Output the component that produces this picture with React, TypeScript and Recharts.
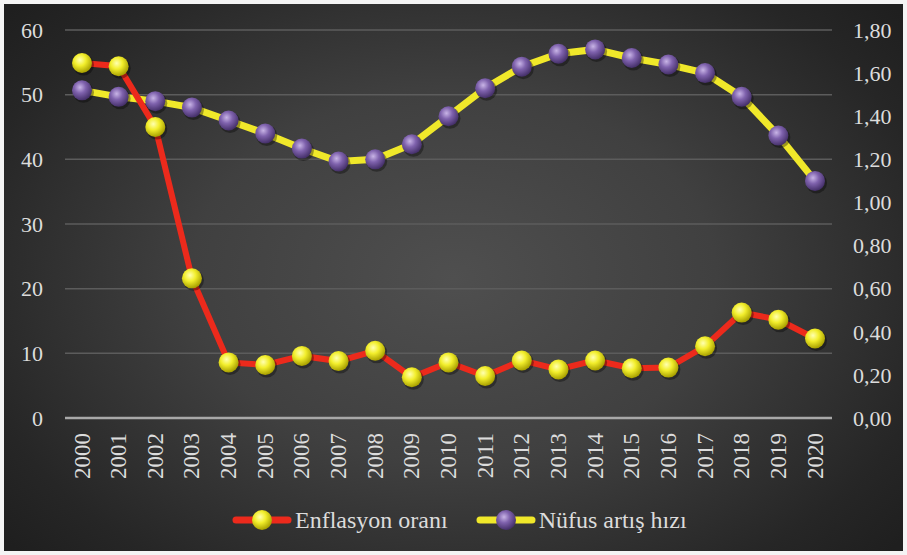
import React from 'react';
import { LineChart, Line, XAxis, YAxis, CartesianGrid, ReferenceLine } from 'recharts';

const years = ['2000', '2001', '2002', '2003', '2004', '2005', '2006', '2007', '2008', '2009', '2010',
  '2011', '2012', '2013', '2014', '2015', '2016', '2017', '2018', '2019', '2020'];
const enflasyon = [54.9, 54.4, 45.0, 21.6, 8.6, 8.2, 9.6, 8.8, 10.4, 6.3, 8.6,
  6.5, 8.9, 7.5, 8.9, 7.7, 7.8, 11.1, 16.3, 15.2, 12.3];
const nufus = [1.52, 1.49, 1.47, 1.44, 1.38, 1.32, 1.25, 1.19, 1.20, 1.27, 1.40,
  1.53, 1.63, 1.69, 1.71, 1.67, 1.64, 1.60, 1.49, 1.31, 1.10];
const leftTicks = [0, 10, 20, 30, 40, 50, 60];
const rightTicks = [0, 0.2, 0.4, 0.6, 0.8, 1.0, 1.2, 1.4, 1.6, 1.8];

const data = years.map((y, i) => ({ year: y, enf: enflasyon[i], nuf: nufus[i] }));

const FONT = "'Times New Roman', Tinos, 'Liberation Serif', 'DejaVu Serif', serif";
const TEXT = '#dcdcdc';

const Ball = (fill: string) => (props: any) => {
  const { cx, cy, index } = props;
  if (cx == null || cy == null) return null;
  return (
    <g key={index}>
      <circle cx={cx + 1.5} cy={cy + 2} r={10.5} fill="rgba(0,0,0,0.35)" />
      <circle cx={cx} cy={cy} r={10} fill={fill} />
    </g>
  );
};

const YearTick = (props: any) => {
  const { x, payload } = props;
  const y = 433;
  return (
    <text
      x={x}
      y={y}
      transform={`rotate(-90, ${x}, ${y})`}
      textAnchor="end"
      dominantBaseline="central"
      fill={TEXT}
      fontSize={23}
      style={{ fontFamily: FONT }}
    >
      {payload.value}
    </text>
  );
};

const LegendIcon = ({ line, ball }: { line: string; ball: string }) => (
  <svg width={60} height={22} style={{ display: 'block' }}>
    <line x1={4} y1={11} x2={56} y2={11} stroke={line} strokeWidth={7} strokeLinecap="round" />
    <circle cx={30} cy={11} r={10} fill={ball} />
  </svg>
);

export default function App() {
  return (
    <div style={{ position: 'absolute', left: 0, top: 0, width: 907, height: 555, background: '#f4f4f4', fontFamily: FONT }}>
      <svg width={0} height={0} style={{ position: 'absolute' }}>
        <defs>
          <radialGradient id="yBall" cx="40%" cy="35%" r="65%">
            <stop offset="0%" stopColor="#ffffb0" />
            <stop offset="45%" stopColor="#f2ee2c" />
            <stop offset="100%" stopColor="#a8a000" />
          </radialGradient>
          <radialGradient id="pBall" cx="40%" cy="35%" r="65%">
            <stop offset="0%" stopColor="#c8b4e6" />
            <stop offset="45%" stopColor="#7f62ad" />
            <stop offset="100%" stopColor="#45306a" />
          </radialGradient>
        </defs>
      </svg>
      <div
        style={{
          position: 'absolute',
          left: 4,
          top: 4,
          width: 899,
          height: 547,
          background: 'radial-gradient(ellipse 65% 75% at 50% 50%, #4f4f4f 0%, #404040 45%, #262626 85%, #1f1f1f 100%)',
        }}
      />
      <div style={{ position: 'absolute', left: 0, top: 0 }}>
        <LineChart width={907} height={555} data={data} margin={{ top: 30, right: 10, bottom: 57, left: 10 }}>
          <CartesianGrid yAxisId="l" vertical={false} stroke="#5c5c5c" strokeWidth={1.5} />
          <XAxis
            dataKey="year"
            height={80}
            axisLine={false}
            tickLine={false}
            interval={0}
            padding={{ left: 17, right: 17 }}
            tick={(p: any) => <YearTick {...p} />}
          />
          <YAxis
            yAxisId="l"
            orientation="left"
            width={55}
            domain={[0, 60]}
            ticks={leftTicks}
            axisLine={false}
            tickLine={false}
            tickSize={0}
            tickMargin={22}
            tick={{ fill: TEXT, fontSize: 22, style: { fontFamily: FONT } }}
          />
          <YAxis
            yAxisId="r"
            orientation="right"
            width={65}
            domain={[0, 1.8]}
            ticks={rightTicks}
            axisLine={false}
            tickLine={false}
            tickSize={0}
            tickMargin={21}
            tickFormatter={(v: number) => v.toFixed(2).replace('.', ',')}
            tick={{ fill: TEXT, fontSize: 22, style: { fontFamily: FONT } }}
          />
          <ReferenceLine yAxisId="l" y={0} stroke="#a8a8a8" strokeWidth={2.5} />
          <Line
            yAxisId="r"
            dataKey="nuf"
            stroke="#f0e82a"
            strokeWidth={7}
            dot={Ball('url(#pBall)')}
            activeDot={false}
            isAnimationActive={false}
          />
          <Line
            yAxisId="l"
            dataKey="enf"
            stroke="#ec2a1c"
            strokeWidth={6}
            dot={Ball('url(#yBall)')}
            activeDot={false}
            isAnimationActive={false}
          />
        </LineChart>
      </div>
      <div
        style={{
          position: 'absolute',
          left: 232,
          top: 508,
          height: 24,
          display: 'flex',
          alignItems: 'center',
          fontFamily: FONT,
          fontSize: 24,
          color: TEXT,
          whiteSpace: 'nowrap',
        }}
      >
        <LegendIcon line="#ec2a1c" ball="url(#yBall)" />
        <span style={{ marginLeft: 3, marginRight: 28 }}>Enflasyon oranı</span>
        <LegendIcon line="#f0e82a" ball="url(#pBall)" />
        <span style={{ marginLeft: 3 }}>Nüfus artış hızı</span>
      </div>
    </div>
  );
}
